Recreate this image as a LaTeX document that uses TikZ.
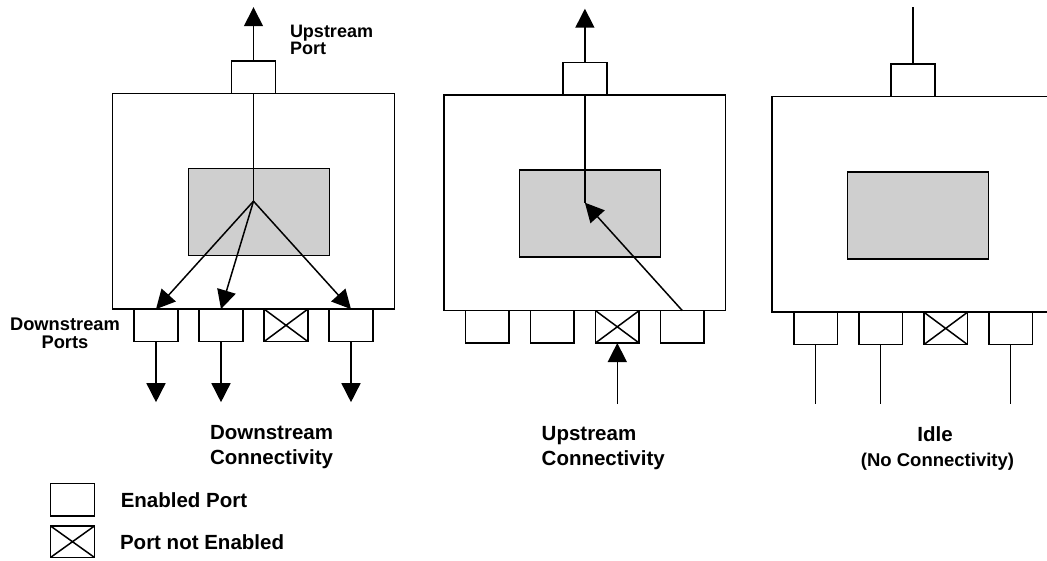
\documentclass[tikz,border=0pt]{standalone}
\usepackage{fontspec}
\setmainfont{Liberation Sans}
\usetikzlibrary{arrows.meta, positioning}
\definecolor{coregray}{RGB}{207,207,207}

\begin{document}
\begin{tikzpicture}[
    x=1pt, y=-1pt,
    every node/.style={inner sep=0pt, outer sep=0pt},
    switch/.style={draw, line width=1.5pt, minimum width=281.6pt, minimum height=215.8pt},
    core/.style={draw, line width=1.5pt, fill=coregray, minimum width=141pt, minimum height=87pt},
    port/.style={draw, line width=1.5pt, fill=white, minimum width=43.7pt, minimum height=32.4pt},
    offport/.style={port, path picture={
        \draw[line width=1.5pt] (path picture bounding box.north west) -- (path picture bounding box.south east)
            (path picture bounding box.south west) -- (path picture bounding box.north east);}},
    captext/.style={font=\bfseries\fontsize{20.5}{25}\selectfont, align=left},
    tagtext/.style={font=\bfseries\fontsize{18}{16.8}\selectfont, align=left},
    arrow/.style={-{Triangle[length=19pt, width=19pt]}, line width=1.5pt},
    wire/.style={line width=1.5pt}
]
\useasboundingbox (0,0) rectangle (1047,560);

% ---------- PANEL 1 (DOWNSTREAM)
\node[switch] (sw1) at (253.5,201.2) {};
\node[core] (core1) at (258.8,211.8) {};
\node[port, above=0pt of sw1] (up1) {};
\node[port, anchor=north] (d1a) at ([xshift=-97.5pt]sw1.south) {};
\node[port, right=21.3pt of d1a] (d1b) {};
\node[offport, right=21.3pt of d1b] (d1c) {};
\node[port, right=21.3pt of d1c] (d1d) {};
\coordinate[above=53.7pt of up1] (t1);
\coordinate[below=60.7pt of d1a] (o1a);
\coordinate[below=60.7pt of d1b] (o1b);
\coordinate[below=60.7pt of d1d] (o1d);

\draw[wire] (sw1.center) -- (up1);
\draw[arrow] (up1) -- (t1);
\draw[arrow] (sw1.center) -- (d1a.north);
\draw[arrow] (sw1.center) -- (d1b.north);
\draw[arrow] (sw1.center) -- (d1d.north);
\draw[arrow] (d1a) -- (o1a);
\draw[arrow] (d1b) -- (o1b);
\draw[arrow] (d1d) -- (o1d);

% ---------- PANEL 2 (UPSTREAM)
\node[switch] (sw2) at (584.9,202.7) {};
\node[core] (core2) at (590,213.7) {};
\node[port, above=0pt of sw2] (up2) {};
\node[port, anchor=north] (d2a) at ([xshift=-97.6pt]sw2.south) {};
\node[port, right=21.3pt of d2a] (d2b) {};
\node[offport, right=21.3pt of d2b] (d2c) {};
\node[port, right=21.3pt of d2c] (d2d) {};
\coordinate[above=53.7pt of up2] (t2);
\coordinate[below=61pt of d2c] (i2);

\draw[wire] (sw2.center) -- (up2);
\draw[arrow] (up2) -- (t2);
\draw[arrow] (d2d.north) -- (sw2.center);
\draw[arrow] (i2) -- (d2c);

% ---------- PANEL 3 (IDLE)
\node[switch] (sw3) at (912.9,204.3) {};
\node[core] (core3) at (918.2,215.3) {};
\node[port, above=0pt of sw3] (up3) {};
\node[port, anchor=north] (d3a) at ([xshift=-97.2pt]sw3.south) {};
\node[port, right=21.3pt of d3a] (d3b) {};
\node[offport, right=21.3pt of d3b] (d3c) {};
\node[port, right=21.3pt of d3c] (d3d) {};
\coordinate[above=57pt of up3] (t3);
\coordinate[below=59pt of d3a] (o3a);
\coordinate[below=59pt of d3b] (o3b);
\coordinate[below=59pt of d3d] (o3d);

\draw[wire] (up3) -- (t3);
\draw[wire] (d3a) -- (o3a);
\draw[wire] (d3b) -- (o3b);
\draw[wire] (d3d) -- (o3d);

% ---------- LABELS
\node[tagtext, anchor=north west] (uplbl) at (290,25) {Upstream\\Port};
\node[font=\bfseries\fontsize{18.3}{18}\selectfont, align=center, anchor=north] (dnlbl) at (65,318.3) {Downstream\\Ports};
\node[captext, anchor=north west] (dncap) at (210,425) {Downstream\\Connectivity};
\node[captext, anchor=north west] (upcap) at (541.7,426.7) {Upstream\\Connectivity};
\node[captext, anchor=north] (idlecap) at (935,426.7) {Idle};
\node[font=\bfseries\fontsize{18.5}{20}\selectfont, below=11pt of idlecap, xshift=2.5pt] (idlenote) {(No Connectivity)};

% ---------- LEGEND
\node[port] (legon) at (72.5,499.7) {};
\node[offport, minimum height=31.3pt] (legoff) at (72.5,541.7) {};
\node[captext, right=26.4pt of legon] (legontxt) {Enabled Port};
\node[captext, right=25.7pt of legoff] (legofftxt) {Port not Enabled};

\end{tikzpicture}
\end{document}
